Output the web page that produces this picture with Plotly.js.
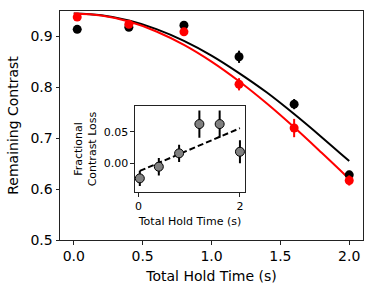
<!DOCTYPE html>
<html>
<head>
<meta charset="utf-8">
<script src="https://cdn.plot.ly/plotly-3.0.1.min.js"></script>
<style>html,body{margin:0;padding:0;background:#fff;}#chart{width:374px;height:289px;}</style>
</head>
<body>
<div id="chart"></div>
<script>
// Main data points
const holdTime = [0.025, 0.4, 0.8, 1.2, 1.6, 2.0];
const blackContrast = [0.914, 0.918, 0.922, 0.860, 0.767, 0.628];
const blackErr = [0.004, 0.004, 0.004, 0.012, 0.010, 0.008];
const redContrast = [0.938, 0.924, 0.909, 0.806, 0.720, 0.617];
const redErr = [0.004, 0.004, 0.004, 0.012, 0.018, 0.010];

// Fit curves
const fitTime = [0.0, 0.2, 0.4, 0.6, 0.8, 1.0, 1.2, 1.4, 1.6, 1.8, 2.0];
const blackFit = [0.945, 0.9415, 0.9313, 0.9144, 0.8913, 0.8624, 0.828, 0.7902, 0.7475, 0.7021, 0.655];
const redFit = [0.945, 0.941, 0.9292, 0.9098, 0.8834, 0.8505, 0.8119, 0.7686, 0.7214, 0.6713, 0.620];

// Inset
const insetTime = [0.025, 0.4, 0.8, 1.2, 1.6, 2.0];
const lossValues = [-0.0237, -0.0053, 0.0158, 0.062, 0.062, 0.0183];
const lossErr = [0.012, 0.0137, 0.0137, 0.0216, 0.0216, 0.018];
const lossFitTime = [0.025, 2.0];
const lossFit = [-0.012, 0.0555];

const font = 'DejaVu Sans, sans-serif';

const traces = [
  {x: fitTime, y: blackFit, mode: 'lines', line: {color: '#000', width: 2, shape: 'spline'}, xaxis: 'x', yaxis: 'y', hoverinfo: 'skip'},
  {x: fitTime, y: redFit, mode: 'lines', line: {color: '#ff0000', width: 2, shape: 'spline'}, xaxis: 'x', yaxis: 'y', hoverinfo: 'skip'},
  {x: holdTime, y: blackContrast, mode: 'markers', marker: {color: '#000', size: 9},
   error_y: {type: 'data', array: blackErr, visible: true, color: '#000', thickness: 2, width: 0}, xaxis: 'x', yaxis: 'y'},
  {x: holdTime, y: redContrast, mode: 'markers', marker: {color: '#ff0000', size: 9},
   error_y: {type: 'data', array: redErr, visible: true, color: '#ff0000', thickness: 2, width: 0}, xaxis: 'x', yaxis: 'y'},
  {x: lossFitTime, y: lossFit, mode: 'lines', line: {color: '#000', width: 2, dash: '6px,3px'}, xaxis: 'x2', yaxis: 'y2'},
  {x: insetTime, y: lossValues, mode: 'markers', marker: {color: '#808080', size: 9, line: {color: '#000', width: 1}},
   error_y: {type: 'data', array: lossErr, visible: true, color: '#000', thickness: 2, width: 0}, xaxis: 'x2', yaxis: 'y2'}
];

const axisCommon = {
  showgrid: false, zeroline: false, showline: true, mirror: true,
  linecolor: '#222', linewidth: 1, ticks: 'outside', ticklen: 3.5, tickwidth: 1, tickcolor: '#222'
};

const layout = {
  width: 374, height: 289,
  margin: {l: 60, r: 11, t: 11, b: 49},
  paper_bgcolor: '#fff', plot_bgcolor: '#fff',
  showlegend: false,
  font: {family: font, color: '#000'},
  xaxis: Object.assign({}, axisCommon, {
    range: [-0.1, 2.1], tickvals: [0, 0.5, 1.0, 1.5, 2.0], ticktext: ['0.0', '0.5', '1.0', '1.5', '2.0'],
    tickfont: {size: 14, family: font}, domain: [0, 1], anchor: 'y',
    title: {text: 'Total Hold Time (s)', font: {size: 14, family: font}, standoff: 7}
  }),
  yaxis: Object.assign({}, axisCommon, {
    range: [0.5, 0.95], tickvals: [0.5, 0.6, 0.7, 0.8, 0.9], ticktext: ['0.5', '0.6', '0.7', '0.8', '0.9'],
    tickfont: {size: 14, family: font}, domain: [0, 1], anchor: 'x',
    title: {text: 'Remaining Contrast', font: {size: 14, family: font}, standoff: 8}
  }),
  xaxis2: Object.assign({}, axisCommon, {
    range: [-0.07, 2.1], tickvals: [0, 2], ticktext: ['0', '2'],
    tickfont: {size: 11, family: font}, domain: [0.2475, 0.6106], anchor: 'y2',
    title: {text: 'Total Hold Time (s)', font: {size: 11, family: font}, standoff: 5}
  }),
  yaxis2: Object.assign({}, axisCommon, {
    range: [-0.0457, 0.091], tickvals: [0, 0.05], ticktext: ['0.00', '0.05'],
    tickfont: {size: 11, family: font}, domain: [0.2083, 0.5865], anchor: 'x2',
    title: {text: 'Fractional<br>Contrast Loss', font: {size: 11, family: font}, standoff: 4}
  })
};

Plotly.newPlot('chart', traces, layout, {staticPlot: true, displayModeBar: false});
</script>
</body>
</html>
